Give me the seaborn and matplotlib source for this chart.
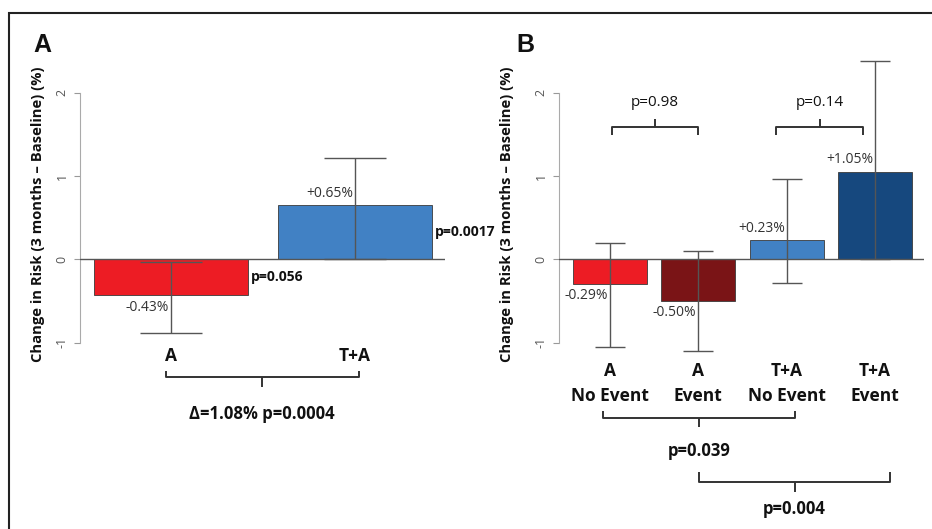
import matplotlib.pyplot as plt
import matplotlib.patches as mpatches
import numpy as np
import pandas as pd
import seaborn as sns

#%% data

groups_a = ["A", "T+A"]
change_a = [-0.43, 0.65]
low_a = [-0.88, 0.00]
high_a = [-0.03, 1.22]
labels_a = ["-0.43%", "+0.65%"]
pvals_a = ["p=0.056", "p=0.0017"]
colors_a = ["#ED1C24", "#4181C4"]

groups_b = ["A\nNo Event", "A\nEvent", "T+A\nNo Event", "T+A\nEvent"]
change_b = [-0.29, -0.50, 0.23, 1.05]
low_b = [-1.05, -1.10, -0.28, 0.00]
high_b = [0.20, 0.10, 0.96, 2.38]
labels_b = ["-0.29%", "-0.50%", "+0.23%", "+1.05%"]
colors_b = ["#ED1C24", "#7A1416", "#4181C4", "#16487E"]

ylabel = "Change in Risk (3 months \u2013 Baseline) (%)"

sns.set_style("white")
plt.rcParams["font.family"] = ["Open Sans", "DejaVu Sans"]

W, H = 932, 529


def panel(ax, groups, change, low, high, colors, labels, xlim, capsize, label_x):
    df = pd.DataFrame({"group": groups, "change": change})
    sns.barplot(data=df, x="group", y="change", hue="group", palette=colors,
                saturation=1, width=0.84, errorbar=None, edgecolor="#3a3a3a",
                linewidth=0.6, legend=False, ax=ax, zorder=2)
    change = np.array(change)
    yerr = [change - np.array(low), np.array(high) - change]
    eb = ax.errorbar(np.arange(len(groups)), change, yerr=yerr, fmt="none",
                     ecolor="#555555", elinewidth=1, capsize=capsize, capthick=1,
                     zorder=4)
    for art in eb.lines[1] + eb.lines[2]:
        art.set_clip_on(False)
    ax.axhline(0, color="#555555", lw=1, zorder=3)

    for i, (v, t) in enumerate(zip(change, labels)):
        off = 12 if v > 0 else -12
        ax.annotate(t, (i, v), xytext=(-2, off), textcoords="offset pixels",
                    ha="right", va="center", fontsize=10, color="#333333")

    ax.set_xlim(*xlim)
    ax.set_ylim(-1.028, 2.572)
    sns.despine(ax=ax, bottom=True)
    ax.spines["left"].set_bounds(-1, 2)
    ax.spines["left"].set_color("#aaaaaa")
    ax.set_yticks([-1, 0, 1, 2])
    ax.set_yticklabels(["-1", "0", "1", "2"], rotation=90, va="center")
    ax.tick_params(axis="y", left=True, length=4.3, width=0.8, color="#999999",
                   labelsize=9, labelcolor="#555555", pad=4)
    ax.tick_params(axis="x", length=0, labelsize=12.5)
    for t in ax.get_xticklabels():
        t.set_fontweight("bold")
        t.set_color("#111111")
    ax.set_xlabel("")
    ax.set_ylabel(ylabel, fontsize=10.6, fontweight="bold", color="#111111")
    ax.yaxis.set_label_coords(label_x, 0.437)


def brace(ax, x0, x1, y, arm, tip, text, ty, bold=True, size=12):
    xc = (x0 + x1) / 2
    kw = dict(color="#333333", lw=1.4, clip_on=False, solid_capstyle="butt")
    ax.plot([x0, x0, x1, x1], [y + arm, y, y, y + arm], **kw)
    ax.plot([xc, xc], [y, y + tip], **kw)
    ax.text(xc, ty, text, ha="center", va="center", fontsize=size,
            fontweight="bold" if bold else "normal", color="#111111")


fig = plt.figure(figsize=(W / 100, H / 100), dpi=100)
ax_a = fig.add_axes([80 / W, 1 - 345 / H, 365 / W, 300 / H])
ax_b = fig.add_axes([559 / W, 1 - 345 / H, 365 / W, 300 / H])

panel(ax_a, groups_a, change_a, low_a, high_a, colors_a, labels_a,
      (-0.495, 1.489), 22, -0.096)
panel(ax_b, groups_b, change_b, low_b, high_b, colors_b, labels_b,
      (-0.578, 3.555), 10.5, -0.124)

ax_a.tick_params(axis="x", pad=1.5)
ax_b.tick_params(axis="x", pad=12)
for t in ax_b.get_xticklabels():
    t.set_linespacing(1.5)

# p-values next to the bars of panel A
for i, (v, p) in enumerate(zip(change_a, pvals_a)):
    ax_a.annotate(p, (i + 0.42, v / 2), xytext=(3, 0), textcoords="offset pixels",
                  ha="left", va="center", fontsize=10, fontweight="bold", color="#111111")

# comparison braces
brace(ax_a, -0.03, 1.02, -1.41, 0.07, -0.12, "\u0394=1.08% p=0.0004", -1.856)
brace(ax_b, 0.02, 1.0, 1.588, -0.1, 0.096, "p=0.98", 1.888, bold=False, size=11)
brace(ax_b, 1.88, 2.865, 1.588, -0.1, 0.096, "p=0.14", 1.888, bold=False, size=11)
brace(ax_b, -0.08, 2.095, -1.90, 0.08, -0.11, "p=0.039", -2.30)
brace(ax_b, 1.01, 3.17, -2.67, 0.12, -0.12, "p=0.004", -3.0)

# panel letters and outer frame
for x, letter in [(33, "A"), (516, "B")]:
    fig.text(x / W, 1 - 52 / H, letter, fontsize=18, fontweight="bold",
             family="Liberation Sans", ha="left", va="baseline", color="#111111")
fig.add_artist(mpatches.Rectangle((9 / W, -0.1), 1.2, 1.1 - 13 / H, fill=False,
                                  lw=1.5, edgecolor="#222222",
                                  transform=fig.transFigure, clip_on=False))

fig.savefig("out.png", dpi=100)
